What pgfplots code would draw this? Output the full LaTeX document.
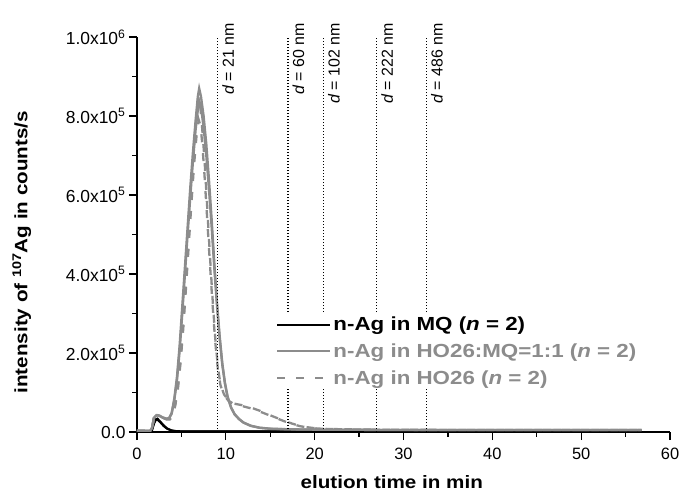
\documentclass[border=0pt]{standalone}
\usepackage{fontspec}
\setmainfont{Liberation Sans}
\newfontfamily\wide{Liberation Sans}[FakeStretch=1.15]
\newfontfamily\wideleg{Liberation Sans}[FakeStretch=1.18]
\usepackage{pgfplots}
\pgfplotsset{compat=1.18}
\usetikzlibrary{calc}
\definecolor{mygray}{RGB}{140,140,140}
\begin{document}
\begin{tikzpicture}
\begin{axis}[
  at={(0,0)}, anchor=south west,
  scale only axis, width=533bp, height=395bp,
  xmin=0, xmax=60, ymin=0, ymax=1e6,
  axis x line*=bottom, axis y line*=left,
  axis line style={line width=1.5bp, black},
  tick align=outside,
  major tick length=8bp, minor tick length=4.5bp,
  tick style={black, line width=1.3bp},
  xtick={0,10,20,30,40,50,60}, xticklabels={0,10,20,30,40,50,60},
  minor xtick={5,15,25,35,45,55},
  ytick={0,200000,400000,600000,800000,1000000},
  yticklabels={0.0, 2.0x10\textsuperscript{5}, 4.0x10\textsuperscript{5}, 6.0x10\textsuperscript{5}, 8.0x10\textsuperscript{5}, 1.0x10\textsuperscript{6}},
  minor ytick={100000,300000,500000,700000,900000},
  scaled y ticks=false, scaled x ticks=false,
  /pgf/number format/assume math mode=true,
  xticklabel style={font=\fontsize{16.5}{18}\selectfont, yshift=-5bp},
  yticklabel style={font=\fontsize{17.5}{19}\selectfont},
  xlabel={elution time in min},
  ylabel={intensity of \textsuperscript{107}Ag in counts/s},
  xlabel style={font=\wide\bfseries\fontsize{18}{20}\selectfont, at={(axis description cs:0.478,-0.128)}, anchor=center},
  ylabel style={font=\wide\bfseries\fontsize{18}{20}\selectfont, at={(axis description cs:-0.216,0.455)}, anchor=center},
  clip=false,
  legend style={at={(0.2533,0.302)}, anchor=north west, draw=none, fill=white,
    font=\wideleg\bfseries\fontsize{19}{21}\selectfont, row sep=7.5bp, inner xsep=4bp, inner ysep=2bp},
  legend cell align=left,
  legend image code/.code={\draw[#1] (0bp,0bp) -- (53bp,0bp);},
]
% n-Ag in MQ
\addplot[black, line width=2bp] coordinates {(0,1500) (1.5,1500) (1.7,6000) (1.9,22000) (2.1,32000) (2.3,34000) (2.6,27000) (3.0,17000) (3.4,9000) (3.9,4000) (4.5,2000) (6,1500) (15,1500) (30,1500) (45,1500) (56.8,1500)};
\addlegendentry{n-Ag in MQ (\textit{n} = 2)}
\addplot[black, line width=2bp, forget plot] coordinates {(0,1500) (1.5,1500) (1.7,5000) (1.9,20000) (2.1,30000) (2.3,31000) (2.6,25000) (3.0,15000) (3.4,8000) (3.9,3500) (4.5,2000) (6,1500) (15,1500) (30,1500) (45,1500) (56.8,1500)};
% n-Ag in HO26:MQ=1:1
\addplot[mygray, line width=2.3bp] coordinates {(0,3000) (1.5,3000) (1.7,10000) (1.9,35000) (2.2,43000) (2.5,42000) (2.9,37000) (3.3,34000) (3.6,35000) (3.9,48000) (4.2,85000) (4.5,140000) (4.8,220000) (5.1,320000) (5.4,420000) (5.7,520000) (6.0,620000) (6.3,710000) (6.6,790000) (6.85,850000) (7.0,870000) (7.2,850000) (7.5,800000) (7.8,730000) (8.1,640000) (8.4,540000) (8.7,430000) (9.0,330000) (9.3,245000) (9.6,175000) (9.9,125000) (10.2,90000) (10.6,62000) (11.0,45000) (11.5,33000) (12.0,24000) (12.8,16000) (13.8,11000) (15,8500) (17,7000) (20,6000) (25,5500) (30,5000) (40,5000) (50,5000) (56.8,5000)};
\addlegendentry{\textcolor{mygray}{n-Ag in HO26:MQ=1:1 (\textit{n} = 2)}}
\addplot[mygray, line width=2.3bp, forget plot] coordinates {(0,3000) (1.5,3000) (1.7,12000) (1.9,36000) (2.2,42000) (2.5,41000) (2.9,36000) (3.3,33000) (3.6,34000) (3.9,46000) (4.2,80000) (4.5,130000) (4.8,205000) (5.1,300000) (5.4,400000) (5.7,500000) (6.0,595000) (6.3,685000) (6.6,765000) (6.85,815000) (7.05,835000) (7.25,815000) (7.5,770000) (7.8,700000) (8.1,615000) (8.4,520000) (8.7,415000) (9.0,320000) (9.3,238000) (9.6,170000) (9.9,122000) (10.2,88000) (10.6,61000) (11.0,44000) (11.5,32000) (12.0,23500) (12.8,15500) (13.8,10500) (15,8000) (17,6800) (20,6000) (25,5500) (30,5000) (40,5000) (50,5000) (56.8,5000)};
% n-Ag in HO26
\addplot[mygray, line width=2.3bp, dash pattern=on 8bp off 11bp] coordinates {(0,3000) (1.5,3000) (1.7,10000) (1.9,35000) (2.2,43000) (2.5,42000) (2.9,37000) (3.3,33000) (3.7,33000) (4.0,42000) (4.3,70000) (4.6,115000) (4.9,185000) (5.2,275000) (5.5,380000) (5.8,490000) (6.1,600000) (6.4,710000) (6.7,800000) (6.9,850000) (7.1,830000) (7.3,780000) (7.6,690000) (7.9,570000) (8.2,450000) (8.5,340000) (8.8,240000) (9.1,165000) (9.4,120000) (9.8,95000) (10.3,80000) (10.9,72000) (11.8,68000) (12.8,62000) (13.8,54000) (14.7,45000) (15.7,36000) (16.6,28000) (17.5,21000) (18.4,15000) (19.2,12000) (19.9,10000) (21,8000) (23,7000) (26,6000) (30,5500) (40,5000) (50,5000) (56.8,5000)};
\addlegendentry{\textcolor{mygray}{n-Ag in HO26 (\textit{n} = 2)}}
\addplot[mygray, line width=2.3bp, dash pattern=on 8bp off 11bp, forget plot] coordinates {(0,3000) (1.5,3000) (1.7,10000) (1.9,34000) (2.2,42000) (2.5,41000) (2.9,36000) (3.3,32000) (3.7,32000) (4.0,40000) (4.3,66000) (4.6,108000) (4.9,175000) (5.2,260000) (5.5,360000) (5.8,465000) (6.1,570000) (6.4,670000) (6.7,750000) (6.95,790000) (7.15,775000) (7.35,730000) (7.6,650000) (7.9,540000) (8.2,430000) (8.5,325000) (8.8,230000) (9.1,160000) (9.4,118000) (9.8,93000) (10.3,79000) (10.9,71000) (11.8,66000) (12.8,60000) (13.8,52000) (14.7,44000) (15.7,35000) (16.6,27000) (17.5,20000) (18.4,14500) (19.2,11500) (19.9,9500) (21,8000) (23,7000) (26,6000) (30,5500) (40,5000) (50,5000) (56.8,5000)};
% size markers
\addplot[black, line width=1.1bp, dash pattern=on 1.1bp off 1.9bp, forget plot] coordinates {(9.1,0) (9.1,1000000)};
\addplot[black, line width=1.1bp, dash pattern=on 1.1bp off 1.9bp, forget plot] coordinates {(17.0,0) (17.0,1000000)};
\addplot[black, line width=1.1bp, dash pattern=on 1.1bp off 1.9bp, forget plot] coordinates {(21.0,0) (21.0,1000000)};
\addplot[black, line width=1.1bp, dash pattern=on 1.1bp off 1.9bp, forget plot] coordinates {(27.0,0) (27.0,1000000)};
\addplot[black, line width=1.1bp, dash pattern=on 1.1bp off 1.9bp, forget plot] coordinates {(32.6,0) (32.6,1000000)};
\begin{scope}[every node/.style={rotate=90, anchor=base east, inner sep=0pt, font=\fontsize{16}{16}\selectfont}]
\node at ($(axis cs:9.1,1000000)+(16bp,14bp)$) {\textit{d} = 21 nm};
\node at ($(axis cs:17.0,1000000)+(16bp,14bp)$) {\textit{d} = 60 nm};
\node at ($(axis cs:21.0,1000000)+(16bp,14bp)$) {\textit{d} = 102 nm};
\node at ($(axis cs:27.0,1000000)+(16bp,14bp)$) {\textit{d} = 222 nm};
\node at ($(axis cs:32.6,1000000)+(16bp,14bp)$) {\textit{d} = 486 nm};
\end{scope}
\end{axis}
\pgfresetboundingbox
\useasboundingbox (-137bp,-62bp) rectangle (544bp,432bp);
\end{tikzpicture}
\end{document}
